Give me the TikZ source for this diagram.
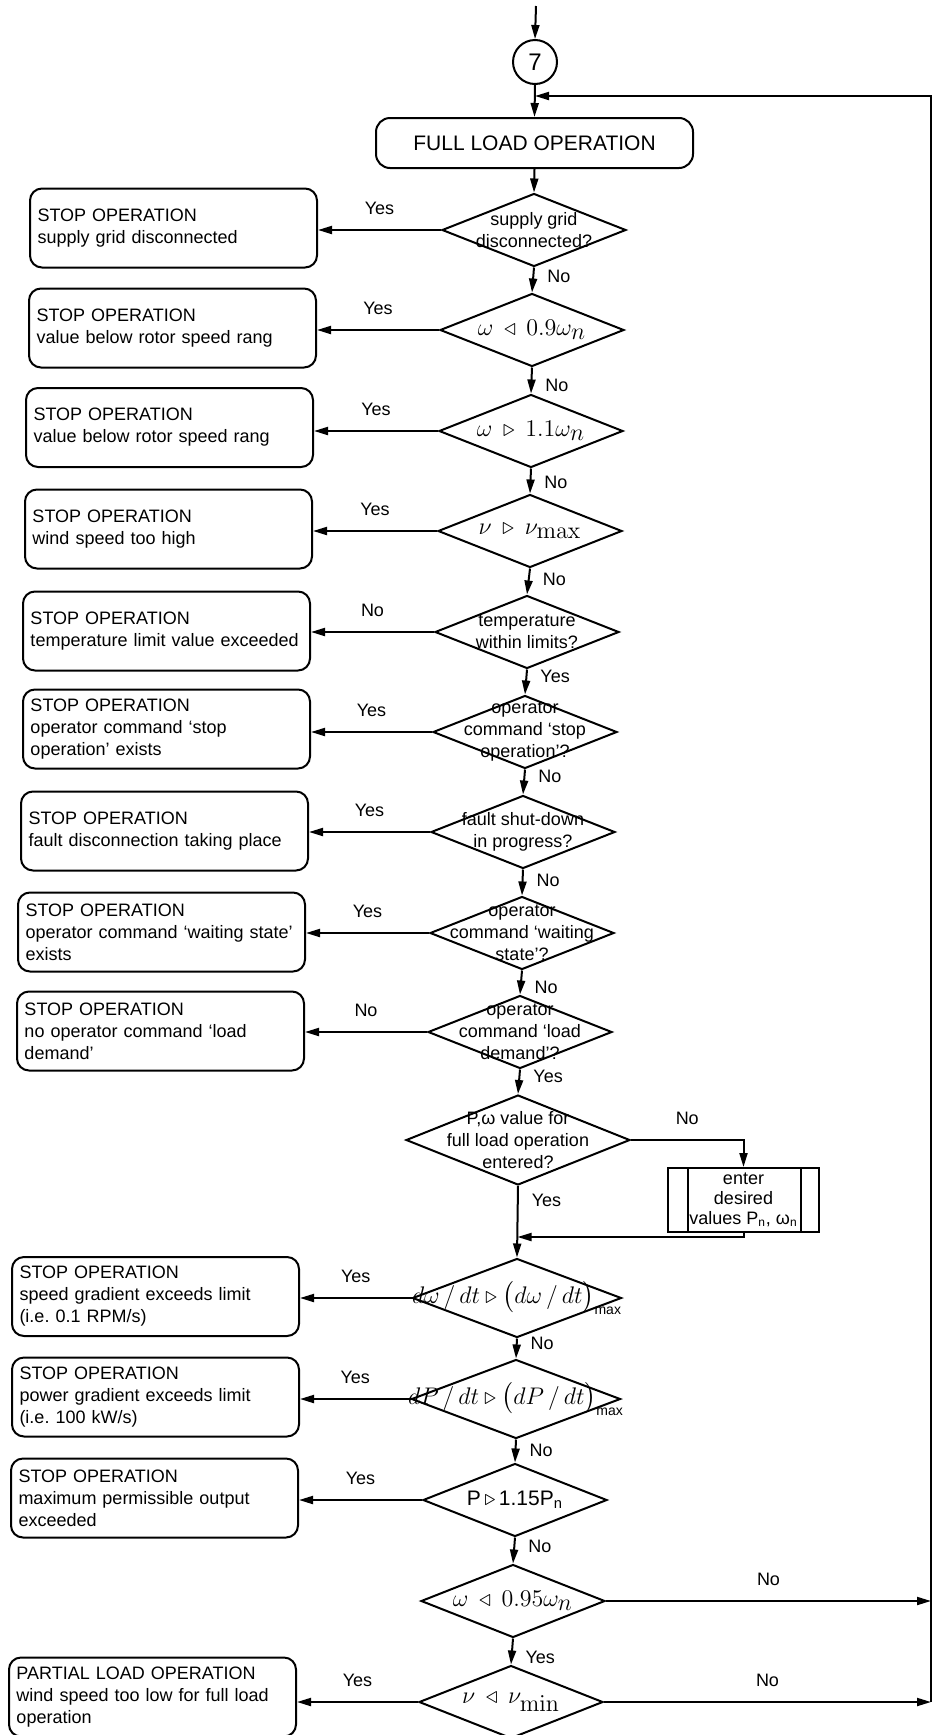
\documentclass[tikz,border=0pt]{standalone}
\usepackage{amsmath}
\usepackage{amssymb}
\usepackage[no-math]{fontspec}
\setmainfont{Liberation Sans}
\usetikzlibrary{shapes.geometric,arrows.meta}

\begin{document}
\begin{tikzpicture}[x=0.5pt,y=-0.5pt,line width=1pt,
  >={Triangle[length=7pt,width=4pt]},
  arr/.style={->},
  stopbox/.style={rectangle,draw,rounded corners=6pt,text width=136pt,inner xsep=3.75pt,
    minimum height=39.5pt,align=left,font=\fontsize{9}{11}\selectfont},
  decision/.style={diamond,draw,inner sep=0pt,minimum width=92pt,minimum height=36.5pt},
  dtext/.style={align=center,inner sep=0pt,font=\fontsize{9}{11}\selectfont},
  mtext/.style={inner sep=0pt,font=\fontsize{12.5}{14}\selectfont},
  lbl/.style={inner sep=1pt,font=\fontsize{9}{11}\selectfont}]
\useasboundingbox (0,0) rectangle (936,1735);

\coordinate (top) at (536,6);
\coordinate (j1) at (535,96);
\coordinate (rt) at (931,96);
\coordinate (j2) at (517.5,1237);

\node [circle,draw,minimum size=22pt,inner sep=0pt,font=\fontsize{12}{14}\selectfont] (c7) at (535,62) {7};
\node [rectangle,draw,rounded corners=7pt,minimum width=158.5pt,minimum height=25pt,
  font=\fontsize{10.5}{12}\selectfont] (full) at (534.5,143) {FULL LOAD OPERATION};

\node [decision,label={[dtext]center:{supply grid\\disconnected?}}] (d1) at (534,230) {};
\node [decision,label={[mtext]center:{$\omega \mathrel{\,\triangleleft\,} 0.9\omega_{\textstyle n}$}}] (d2) at (532,330) {};
\node [decision,label={[mtext]center:{$\omega \mathrel{\,\triangleright\,} 1.1\omega_{\textstyle n}$}}] (d3) at (531,431) {};
\node [decision,label={[mtext]center:{$\nu \mathrel{\,\triangleright\,} \nu_{\textstyle\mathrm{max}}$}}] (d4) at (530,531) {};
\node [decision,label={[dtext]center:{temperature\\within limits?}}] (d5) at (527,632) {};
\node [decision,label={[dtext]center:{operator\\command ‘stop\\operation’?}}] (d6) at (525,732) {};
\node [decision,label={[dtext]center:{fault shut-down\\in progress?}}] (d7) at (523,832) {};
\node [decision,label={[dtext]center:{operator\\command ‘waiting\\state’?}}] (d8) at (522,933) {};
\node [decision,label={[dtext]center:{operator\\command ‘load\\demand’?}}] (d9) at (520,1032) {};
\node [decision,minimum width=112pt,minimum height=45pt,
  label={[dtext]center:{P,ω value for\\full load operation\\entered?}}] (d10) at (518,1140) {};
\node [decision,minimum width=104.5pt,minimum height=39.5pt,
  label={[mtext,font=\fontsize{13}{15}\selectfont]center:{$d\omega\,/\,dt \triangleright \bigl(d\omega\,/\,dt\bigr)_{\text{\fontsize{7}{8}\selectfont max}}$}}] (d11) at (517,1298) {};
\node [decision,minimum width=104.5pt,minimum height=39.5pt,
  label={[mtext,font=\fontsize{13}{15}\selectfont]center:{$dP\,/\,dt \triangleright \bigl(dP\,/\,dt\bigr)_{\text{\fontsize{7}{8}\selectfont max}}$}}] (d12) at (516,1399) {};
\node [decision,label={[mtext,font=\fontsize{10.5}{12}\selectfont]center:{P\,$\triangleright$\,1.15P\textsubscript{n}}}] (d13) at (515,1500) {};
\node [decision,label={[mtext]center:{$\omega \mathrel{\,\triangleleft\,} 0.95\omega_{\textstyle n}$}}] (d14) at (513,1601) {};
\node [decision,label={[mtext]center:{$\nu \mathrel{\,\triangleleft\,} \nu_{\textstyle\mathrm{min}}$}}] (d15) at (511,1702) {};

\node [rectangle,draw,minimum width=75.5pt,minimum height=32pt,inner sep=0pt,align=center,
  font=\fontsize{9}{10}\selectfont] (pp) at (743.5,1200) {enter\\desired\\values P\textsubscript{n}, ω\textsubscript{n}};
\draw ([xshift=10.5pt]pp.north west) -- ([xshift=10.5pt]pp.south west)
  ([xshift=-9.5pt]pp.north east) -- ([xshift=-9.5pt]pp.south east);

\node [stopbox] (s1) at (173.5,228) {STOP OPERATION\\supply grid disconnected};
\node [stopbox] (s2) at (172.5,328) {STOP OPERATION\\value below rotor speed rang};
\node [stopbox] (s3) at (169.5,427.5) {STOP OPERATION\\value below rotor speed rang};
\node [stopbox] (s4) at (168.5,529) {STOP OPERATION\\wind speed too high};
\node [stopbox] (s5) at (166.5,631) {STOP OPERATION\\temperature limit value exceeded};
\node [stopbox] (s6) at (166.5,729) {STOP OPERATION\\operator command ‘stop\\operation’ exists};
\node [stopbox] (s7) at (164.5,831) {STOP OPERATION\\fault disconnection taking place};
\node [stopbox] (s8) at (161.5,932) {STOP OPERATION\\operator command ‘waiting state’\\exists};
\node [stopbox] (s9) at (160.5,1031) {STOP OPERATION\\no operator command ‘load\\demand’};
\node [stopbox] (s11) at (155.5,1296.5) {STOP OPERATION\\speed gradient exceeds limit\\(i.e.\ 0.1 RPM/s)};
\node [stopbox] (s12) at (155.5,1397) {STOP OPERATION\\power gradient exceeds limit\\(i.e.\ 100 kW/s)};
\node [stopbox] (s13) at (154.5,1498) {STOP OPERATION\\maximum permissible output\\exceeded};
\node [stopbox] (s15) at (152.5,1697) {PARTIAL LOAD OPERATION\\wind speed too low for full load\\operation};

\draw [arr] (top) -- (c7.north);
\draw [arr] (c7.south) -- (full.north);
\draw [arr] (full.south) -- (d1.north);

\draw [arr] (d1.south) -- node [lbl,pos=0.37,right=5.5pt] {No} (d2.north);
\draw [arr] (d2.south) -- node [lbl,pos=0.68,right=5.5pt] {No} (d3.north);
\draw [arr] (d3.south) -- node [lbl,pos=0.57,right=5.5pt] {No} (d4.north);
\draw [arr] (d4.south) -- node [lbl,pos=0.4,right=5.5pt] {No} (d5.north);
\draw [arr] (d5.south) -- node [lbl,pos=0.26,right=5.5pt] {Yes} (d6.north);
\draw [arr] (d6.south) -- node [lbl,pos=0.29,right=5.5pt] {No} (d7.north);
\draw [arr] (d7.south) -- node [lbl,pos=0.41,right=5.5pt] {No} (d8.north);
\draw [arr] (d8.south) -- node [lbl,pos=0.69,right=5.5pt] {No} (d9.north);
\draw [arr] (d9.south) -- node [lbl,pos=0.3,right=5.5pt] {Yes} (d10.north);
\draw [arr] (d10.south) -- node [lbl,pos=0.2,right=5.5pt] {Yes} (d11.north);
\draw [arr] (d11.south) -- node [lbl,pos=0.26,right=5.5pt] {No} (d12.north);
\draw [arr] (d12.south) -- node [lbl,pos=0.48,right=5.5pt] {No} (d13.north);
\draw [arr] (d13.south) -- node [lbl,pos=0.36,right=5.5pt] {No} (d14.north);
\draw [arr] (d14.south) -- node [lbl,pos=0.71,right=5.5pt] {Yes} (d15.north);

\draw [arr] (d1.west) -- node [lbl,midway,above=6pt] {Yes} (d1.west -| s1.east);
\draw [arr] (d2.west) -- node [lbl,midway,above=6pt] {Yes} (d2.west -| s2.east);
\draw [arr] (d3.west) -- node [lbl,midway,above=6pt] {Yes} (d3.west -| s3.east);
\draw [arr] (d4.west) -- node [lbl,midway,above=6pt] {Yes} (d4.west -| s4.east);
\draw [arr] (d5.west) -- node [lbl,midway,above=6pt] {No} (d5.west -| s5.east);
\draw [arr] (d6.west) -- node [lbl,midway,above=6pt] {Yes} (d6.west -| s6.east);
\draw [arr] (d7.west) -- node [lbl,midway,above=6pt] {Yes} (d7.west -| s7.east);
\draw [arr] (d8.west) -- node [lbl,midway,above=6pt] {Yes} (d8.west -| s8.east);
\draw [arr] (d9.west) -- node [lbl,midway,above=6pt] {No} (d9.west -| s9.east);
\draw [arr] (d11.west) -- node [lbl,midway,above=6pt] {Yes} (d11.west -| s11.east);
\draw [arr] (d12.west) -- node [lbl,midway,above=6pt] {Yes} (d12.west -| s12.east);
\draw [arr] (d13.west) -- node [lbl,midway,above=6pt] {Yes} (d13.west -| s13.east);
\draw [arr] (d15.west) -- node [lbl,midway,above=6pt] {Yes} (d15.west -| s15.east);

\draw [arr] (d10.east) -| node [lbl,pos=0.25,above=6pt] {No} (pp.north);
\draw [arr] (pp.south) |- (j2);

\draw [arr] (d14.east) -- node [lbl,midway,above=6pt] {No} (d14.east -| rt);
\draw [arr] (d15.east) -- node [lbl,midway,above=6pt] {No} (d15.east -| rt);
\draw [arr] (d15.east -| rt) -- (rt) -- (j1);
\end{tikzpicture}
\end{document}
